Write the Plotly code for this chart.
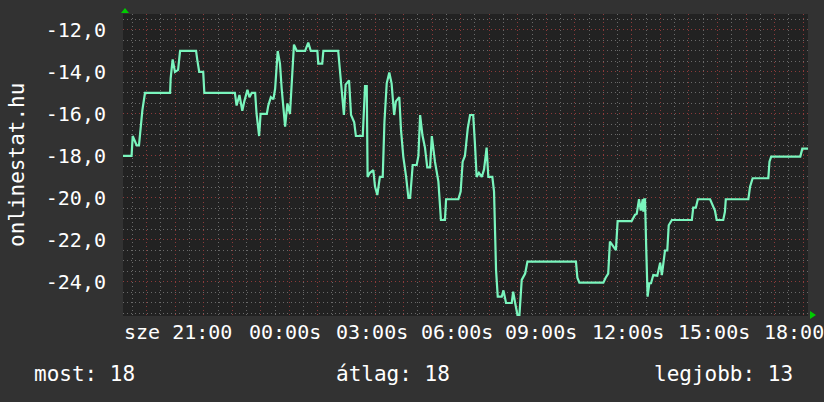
import plotly.graph_objects as go

# ---- data (hours since start of the 24h window, value) ----
hours = [0.00, 0.30, 0.34, 0.48, 0.56, 0.62, 0.68, 0.77, 1.65, 1.67, 1.74, 1.82, 1.93, 2.00,
         2.56, 2.60, 2.67, 2.81, 2.85, 3.92, 3.98, 4.08, 4.18, 4.25, 4.36, 4.43, 4.51, 4.63,
         4.68, 4.77, 4.82, 5.04, 5.09, 5.18, 5.27, 5.33, 5.42, 5.50, 5.56, 5.68, 5.76, 5.85,
         5.91, 5.99, 6.09, 6.38, 6.49, 6.58, 6.81, 6.84, 6.98, 7.02, 7.54, 7.60, 7.70, 7.74,
         7.80, 7.92, 7.99, 8.10, 8.16, 8.40, 8.48, 8.54, 8.57, 8.65, 8.77, 8.83, 8.91, 9.00,
         9.10, 9.16, 9.24, 9.33, 9.41, 9.50, 9.56, 9.68, 9.74, 9.82, 9.92, 10.00, 10.06, 10.15,
         10.29, 10.35, 10.41, 10.49, 10.58, 10.66, 10.76, 10.82, 10.93, 11.05, 11.14, 11.28,
         11.32, 11.75, 11.83, 11.90, 11.98, 12.08, 12.16, 12.27, 12.33, 12.39, 12.47, 12.57,
         12.65, 12.74, 12.80, 12.94, 13.00, 13.07, 13.13, 13.27, 13.33, 13.42, 13.62, 13.67,
         13.74, 13.82, 13.89, 13.97, 14.09, 14.17, 15.87, 15.92, 15.99, 16.83, 16.91, 17.00,
         17.06, 17.16, 17.27, 17.33, 17.82, 17.94, 18.00, 18.08, 18.14, 18.21, 18.23, 18.26,
         18.29, 18.33, 18.38, 18.44, 18.50, 18.58, 18.72, 18.82, 18.88, 18.99, 19.07, 19.12,
         19.23, 19.93, 19.98, 20.07, 20.14, 20.57, 20.63, 20.74, 20.80, 21.03, 21.09, 21.12,
         21.91, 21.97, 22.06, 22.61, 22.65, 22.71, 23.73, 23.80, 24.00]
values = [-18.0, -18.0, -17.05, -17.5, -17.5, -16.6, -15.8, -15.0, -15.0, -14.3, -13.4, -14.0,
          -13.9, -13.0, -13.0, -13.4, -14.0, -14.0, -15.0, -15.0, -15.6, -15.1, -15.85, -15.4,
          -14.85, -15.2, -15.0, -15.0, -16.0, -17.05, -16.0, -16.0, -15.6, -15.2, -15.3, -14.8,
          -13.0, -13.6, -14.8, -16.6, -15.5, -16.0, -14.6, -12.7, -13.0, -13.0, -12.6, -13.0,
          -13.0, -13.6, -13.6, -13.0, -13.0, -14.0, -15.65, -16.05, -14.6, -14.4, -16.05, -16.4,
          -17.05, -17.05, -14.67, -14.67, -19.0, -18.8, -18.67, -19.46, -19.86, -19.0, -19.0,
          -16.37, -14.54, -14.03, -14.54, -16.05, -15.4, -15.2, -16.76, -18.03, -19.0, -20.0,
          -20.0, -18.43, -18.43, -18.0, -16.05, -17.0, -17.6, -18.54, -18.54, -17.05, -18.27,
          -19.22, -21.05, -21.05, -20.06, -20.06, -19.7, -18.27, -18.0, -16.68, -16.05, -16.05,
          -17.4, -19.0, -18.8, -19.0, -18.64, -17.6, -19.0, -19.0, -19.7, -23.43, -24.7, -24.7,
          -24.4, -25.0, -25.0, -24.46, -25.0, -25.57, -25.57, -23.9, -23.6, -23.03, -23.03,
          -23.8, -24.03, -24.03, -23.8, -23.6, -22.08, -22.3, -22.48, -21.1, -21.1, -20.8,
          -20.75, -20.06, -20.6, -20.06, -20.65, -20.06, -20.06, -22.3, -24.7, -24.06, -24.06,
          -23.67, -23.7, -23.08, -23.67, -22.5, -22.5, -21.3, -21.05, -21.05, -20.46, -20.46,
          -20.06, -20.06, -20.26, -20.6, -21.05, -21.05, -20.65, -20.06, -20.06, -19.46, -19.06,
          -19.06, -18.27, -18.03, -18.03, -17.65, -17.65]

y_tick_values = [-12, -14, -16, -18, -20, -22, -24]
y_tick_labels = ["-12,0", "-14,0", "-16,0", "-18,0", "-20,0", "-22,0", "-24,0"]

x_label_hours = [1.91, 5.68, 8.72, 11.69, 14.66, 17.69, 20.69, 23.50]
x_label_texts = ["sze 21:00", "00:00s", "03:00s", "06:00s", "09:00s", "12:00s", "15:00s", "18:00"]

axis_title = "onlinestat.hu"
summary_labels = ["most: 18", "átlag: 18", "legjobb: 13"]

# ---- layout geometry (pixels) ----
W, H = 824, 402
L, R, T, B = 123, 808, 14, 316
PW, PH = R - L, B - T


def px(x):
    return (x - L) / PW


def py(y):
    return (B - y) / PH


FONT = "DejaVu Sans Mono"
WHITE = "#ffffff"
RED_GRID = "#8c3a3a"
GRAY_GRID = "#6a6a6a"

fig = go.Figure()
fig.add_trace(go.Scatter(
    x=hours, y=values, mode="lines",
    line=dict(color="#7af5bd", width=2.2),
    hoverinfo="skip", showlegend=False,
))

fig.update_layout(
    width=W, height=H,
    margin=dict(l=L, r=W - R, t=T, b=H - B, pad=0),
    paper_bgcolor="#323232",
    plot_bgcolor="#222222",
    showlegend=False,
    font=dict(family=FONT, color=WHITE, size=20),
)

fig.update_xaxes(
    range=[0, 24], showticklabels=False, ticks="",
    tick0=0.83, dtick=1,
    showgrid=True, gridcolor=RED_GRID, griddash="1px,3px", gridwidth=1,
    minor=dict(tick0=0.33, dtick=0.5, showgrid=True, gridcolor=GRAY_GRID,
               griddash="1px,3px", gridwidth=1),
    zeroline=False, showline=False, fixedrange=True,
)
fig.update_yaxes(
    range=[-25.62, -11.24],
    tickmode="array", tickvals=y_tick_values, ticktext=y_tick_labels,
    ticks="", ticklabelstandoff=16,
    tickfont=dict(family=FONT, size=20, color=WHITE),
    showgrid=True, gridcolor=RED_GRID, griddash="1px,3px", gridwidth=1,
    minor=dict(tick0=-12, dtick=0.5, showgrid=True, gridcolor=GRAY_GRID,
               griddash="1px,3px", gridwidth=1),
    zeroline=False, showline=False, fixedrange=True,
)

annotations = []
for h, t in zip(x_label_hours, x_label_texts):
    annotations.append(dict(
        x=h, xref="x", y=py(332), yref="paper", text=t, showarrow=False,
        xanchor="center", yanchor="middle",
        font=dict(family=FONT, size=20, color=WHITE),
    ))

annotations.append(dict(
    x=px(17), xref="paper", y=0.5, yref="paper", text=axis_title,
    textangle=-90, showarrow=False, xanchor="center", yanchor="middle",
    font=dict(family=FONT, size=21, color=WHITE),
))

for lx, t in zip([32, 334, 652], summary_labels):
    annotations.append(dict(
        x=px(lx), xref="paper", y=py(374), yref="paper", text=t,
        showarrow=False, xanchor="left", yanchor="middle",
        font=dict(family=FONT, size=21, color=WHITE),
    ))

fig.update_layout(annotations=annotations)


# green axis arrows
def tri(points):
    path = "M " + " L ".join(f"{px(a)},{py(b)}" for a, b in points) + " Z"
    return dict(type="path", xref="paper", yref="paper", path=path,
                fillcolor="#00cc00", line=dict(color="#00cc00", width=0))


fig.update_layout(shapes=[
    tri([(121, 13), (129, 13), (125, 8)]),
    tri([(810, 311), (810, 319), (816, 315)]),
])

fig.write_html(
    "out.html",
    config={"displayModeBar": False},
    post_script="document.body.style.margin='0';document.body.style.background='#323232';",
)
